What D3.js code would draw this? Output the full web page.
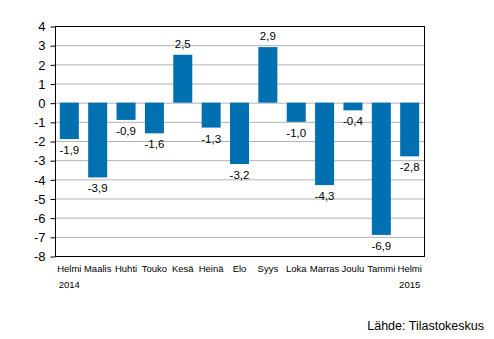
<!DOCTYPE html>
<html>
<head>
<meta charset="utf-8">
<script src="https://cdn.jsdelivr.net/npm/d3@7"></script>
<style>
body { margin: 0; background: #fff; }
text { font-family: "Liberation Sans", Arial, sans-serif; }
</style>
</head>
<body>
<svg width="494" height="339"></svg>
<script>
const months = ["Helmi", "Maalis", "Huhti", "Touko", "Kesä", "Heinä", "Elo", "Syys", "Loka", "Marras", "Joulu", "Tammi", "Helmi"];
const years = ["2014", "", "", "", "", "", "", "", "", "", "", "", "2015"];
const values = [-1.9, -3.9, -0.9, -1.6, 2.5, -1.3, -3.2, 2.9, -1.0, -4.3, -0.4, -6.9, -2.8];
const yTicks = [4, 3, 2, 1, 0, -1, -2, -3, -4, -5, -6, -7, -8];

const svg = d3.select("svg");
const plotL = 55, plotR = 424, plotT = 26, plotB = 256;

const x = d3.scaleBand()
    .domain(d3.range(values.length))
    .range([plotL, plotR])
    .paddingInner(0.33)
    .paddingOuter(0.17);

const y = d3.scaleLinear([-8, 4], [plotB, plotT]);

// grid
svg.append("g")
    .selectAll("line")
    .data(yTicks.filter(d => d > -8 && d < 4))
    .enter()
    .append("line")
    .attr("x1", plotL)
    .attr("x2", plotR)
    .attr("y1", d => y(d) + 0.5)
    .attr("y2", d => y(d) + 0.5)
    .attr("stroke", "#b3b3b3");

// bars
svg.append("g")
    .selectAll("rect")
    .data(values)
    .enter()
    .append("rect")
    .attr("x", (d, i) => x(i))
    .attr("width", x.bandwidth())
    .attr("y", d => y(Math.max(0, d)))
    .attr("height", d => Math.abs(y(d) - y(0)))
    .attr("fill", "#0070b0");

// value labels
svg.append("g")
    .selectAll("text")
    .data(values)
    .enter()
    .append("text")
    .attr("x", (d, i) => x(i) + x.bandwidth() / 2)
    .attr("y", d => d < 0 ? y(d) + 15 : y(d) - 7)
    .attr("text-anchor", "middle")
    .attr("font-size", 11.5)
    .attr("fill", "#000")
    .text(d => d3.format(".1f")(d).replace(".", ",").replace("−", "-"));

// frame
svg.append("rect")
    .attr("x", plotL + 0.5)
    .attr("y", plotT + 0.5)
    .attr("width", plotR - plotL)
    .attr("height", plotB - plotT)
    .attr("fill", "none")
    .attr("stroke", "#000");

// y axis
svg.append("g")
    .attr("transform", `translate(${plotL + 0.5},0.5)`)
    .call(d3.axisLeft(y)
        .tickValues(yTicks)
        .tickSize(5)
        .tickPadding(5)
        .tickFormat(d => String(d)))
    .call(g => g.select(".domain").remove())
    .call(g => g.selectAll("line").attr("stroke", "#000"))
    .call(g => g.selectAll("text")
        .attr("font-size", 13)
        .attr("font-family", "Liberation Sans, Arial, sans-serif")
        .attr("fill", "#000"));

// month labels
svg.append("g")
    .selectAll("text")
    .data(months)
    .enter()
    .append("text")
    .attr("x", (d, i) => x(i) + x.bandwidth() / 2)
    .attr("y", 272)
    .attr("text-anchor", "middle")
    .attr("font-size", 9.5)
    .text(d => d);

svg.append("g")
    .selectAll("text")
    .data(years)
    .enter()
    .append("text")
    .attr("x", (d, i) => x(i) + x.bandwidth() / 2)
    .attr("y", 288)
    .attr("text-anchor", "middle")
    .attr("font-size", 9.5)
    .text(d => d);

svg.append("text")
    .attr("x", 484)
    .attr("y", 330)
    .attr("text-anchor", "end")
    .attr("font-size", 12.5)
    .text("Lähde: Tilastokeskus");
</script>
</body>
</html>
